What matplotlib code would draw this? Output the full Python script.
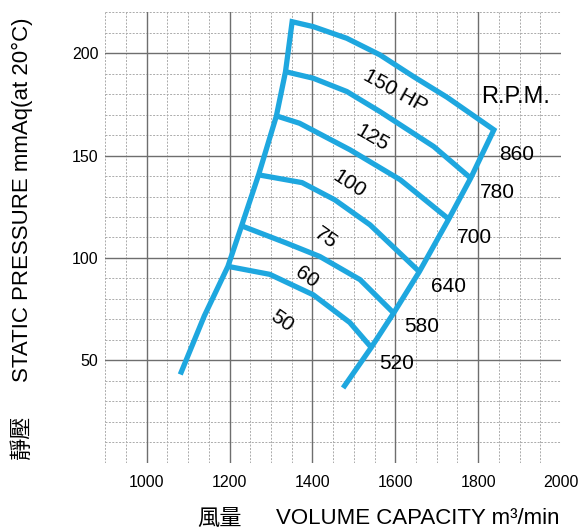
import numpy as np
import matplotlib
matplotlib.use('Agg')
import matplotlib.pyplot as plt

plt.rcParams['font.family'] = ['Liberation Sans', 'Noto Sans CJK TC', 'DejaVu Sans']

# fan curves (volume m3/min, static pressure mmAq)
hp = [50, 60, 75, 100, 125, 150]
rpm = [520, 580, 640, 700, 780, 860]
curve_x = [
    [1196, 1297, 1402, 1490, 1542],
    [1229, 1337, 1418, 1515, 1596],
    [1270, 1375, 1454, 1539, 1658],
    [1313, 1369, 1491, 1612, 1729],
    [1335, 1402, 1483, 1563, 1693, 1782],
    [1351, 1402, 1483, 1563, 1644, 1725, 1838],
]
curve_y = [
    [95.9, 92.0, 82.0, 68.5, 56.3],
    [115.7, 107.3, 100.7, 89.4, 73.1],
    [140.6, 136.8, 128.4, 116.2, 93.3],
    [169.4, 165.8, 152.8, 138.2, 119.0],
    [191.0, 187.8, 181.3, 171.5, 154.4, 139.0],
    [215.4, 213.0, 207.3, 199.2, 188.6, 178.5, 162.6],
]
# loose ends of the left / right boundary lines
left_end_x = [1081, 1139]
left_end_y = [43.1, 71.7]
right_end_x = [1474]
right_end_y = [36.5]

x_ticks = [1000, 1200, 1400, 1600, 1800, 2000]
y_ticks = [50, 100, 150, 200]

hp_labels = ['50', '60', '75', '100', '125', '150 HP']
hp_pos = [(1326, 68.9), (1386, 90.4), (1432, 109.9), (1488, 136.2), (1544, 158.6), (1600, 181.6)]
hp_rot = [-35, -35, -35, -33, -30, -29]
rpm_pos = [(1562, 48.4), (1622, 66.6), (1685, 86.1), (1748, 110.1), (1804, 132.1), (1850, 150.4)]

blue = '#1ea7df'

fig = plt.figure(figsize=(5.85, 5.3), dpi=100)
ax = fig.add_axes([105.3 / 585, 1 - 462.7 / 530, (561 - 105.3) / 585, (462.7 - 12.3) / 530])
ax.set_xlim(900, 2000)
ax.set_ylim(0, 220)

# grid paper
for v in np.arange(900, 2001, 50):
    ax.axvline(v, color='#ababab', lw=0.7, ls=(0, (2, 1.5)), zorder=0)
for v in np.arange(0, 221, 10):
    ax.axhline(v, color='#ababab', lw=0.7, ls=(0, (2, 1.5)), zorder=0)
for v in x_ticks[:-1]:
    ax.axvline(v, color='#6e6e6e', lw=1.0, zorder=1)
for v in y_ticks:
    ax.axhline(v, color='#6e6e6e', lw=1.0, zorder=1)

for s in ax.spines.values():
    s.set_visible(False)
ax.set_xticks(x_ticks)
ax.set_yticks(y_ticks)
ax.tick_params(length=0, labelsize=11.5)
ax.tick_params(axis='x', pad=9)
ax.tick_params(axis='y', pad=5)

# outline: left boundary up, top curve across, right boundary down
lx = left_end_x + [c[0] for c in curve_x]
ly = left_end_y + [c[0] for c in curve_y]
rx = right_end_x + [c[-1] for c in curve_x]
ry = right_end_y + [c[-1] for c in curve_y]
ox = lx + curve_x[-1][1:-1] + rx[::-1]
oy = ly + curve_y[-1][1:-1] + ry[::-1]
ax.plot(ox, oy, color=blue, lw=3.8, solid_joinstyle='miter', solid_capstyle='butt', zorder=3)
for cx, cy in zip(curve_x[:-1], curve_y[:-1]):
    ax.plot(cx, cy, color=blue, lw=3.8, solid_joinstyle='round', solid_capstyle='butt', zorder=3)

for lab, (px, py), r in zip(hp_labels, hp_pos, hp_rot):
    ax.text(px, py, lab, rotation=r, ha='center', va='center', fontsize=15, zorder=4)
for r, (px, py) in zip(rpm, rpm_pos):
    ax.text(px, py, str(r), ha='left', va='center', fontsize=15, zorder=4)
ax.text(1806, 178.6, 'R.P.M.', ha='left', va='center', fontsize=17, zorder=4)

fig.text(22 / 585, 1 - 200 / 530, 'STATIC PRESSURE mmAq(at 20°C)', rotation=90,
         ha='center', va='center', fontsize=16)
fig.text(21 / 585, 1 - 437 / 530, '靜壓', rotation=90, ha='center', va='center', fontsize=16,
         family=['Noto Sans CJK TC'])
fig.text(220 / 585, 1 - 518 / 530, '風量', ha='center', va='center', fontsize=16,
         family=['Noto Sans CJK TC'])
fig.text(418 / 585, 1 - 518 / 530, 'VOLUME CAPACITY m³/min', ha='center', va='center', fontsize=16)

fig.savefig('out.png', dpi=100)
